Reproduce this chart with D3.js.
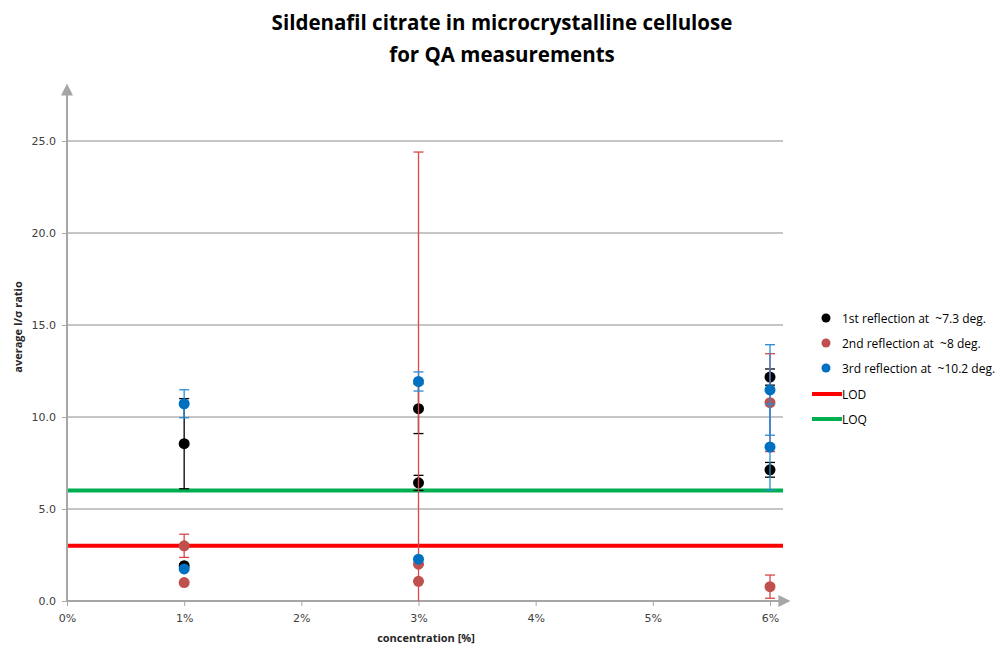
<!DOCTYPE html>
<html>
<head>
<meta charset="utf-8">
<script src="https://cdn.jsdelivr.net/npm/d3@7"></script>
<style>
  body { margin: 0; background: #fff; }
  text { font-family: "Open Sans", sans-serif; }
  .tick text { font-family: "DejaVu Sans", sans-serif; font-size: 11px; fill: #404040; }
</style>
</head>
<body>
<div id="chart"></div>
<script>
var width = 1001;
var height = 646;

// series data
var seriesNames = ["1st reflection at  ~7.3 deg.", "2nd reflection at  ~8 deg.", "3rd reflection at  ~10.2 deg."];
var seriesColours = ["#000000", "#c0504d", "#0070c0"];
var errColours = ["#000000", "#d84848", "#2a8ad4"];

var s1Conc = [1, 1, 3, 3, 6, 6];
var s1Ratio = [8.55, 1.92, 10.45, 6.42, 12.17, 7.13];
var s1Err = [2.45, 0, 1.35, 0.41, 0.44, 0.40];

var s2Conc = [1, 1, 3, 3, 6, 6];
var s2Ratio = [3.0, 1.0, 2.0, 1.07, 10.78, 0.78];
var s2Err = [0.63, 0, 22.4, 0, 2.66, 0.63];

var s3Conc = [1, 1, 3, 3, 6, 6];
var s3Ratio = [10.72, 1.74, 11.93, 2.27, 11.47, 8.37];
var s3Err = [0.76, 0, 0.52, 0, 2.46, 2.34];

var limitNames = ["LOD", "LOQ"];
var limitValues = [3.0, 6.0];
var limitColours = ["#ff0000", "#00b050"];

var xTicks = [0, 1, 2, 3, 4, 5, 6];
var yTicks = [0, 5, 10, 15, 20, 25];

var svg = d3.select("#chart")
    .append("svg")
        .attr("width", width)
        .attr("height", height);

var xscale = d3.scaleLinear()
    .domain([0, 6])
    .range([67, 770]);
var yscale = d3.scaleLinear()
    .domain([0, 25])
    .range([601, 141]);

var plotRight = 783;

// grid lines
svg.append("g").selectAll("line")
    .data(yTicks.filter(function(d){ return d > 0; }))
    .enter().append("line")
    .attr("x1", xscale(0))
    .attr("x2", plotRight)
    .attr("y1", function(d){ return yscale(d); })
    .attr("y2", function(d){ return yscale(d); })
    .style("stroke", "#8c8c8c")
    .style("stroke-width", 1);

// axes
var y_axis = d3.axisLeft(yscale)
    .tickValues(yTicks)
    .tickFormat(d3.format(".1f"))
    .tickSize(5)
    .tickPadding(6);
var yg = svg.append("g")
    .attr("transform", "translate(" + xscale(0) + ",0)")
    .call(y_axis);

var x_axis = d3.axisBottom(xscale)
    .tickValues(xTicks)
    .tickFormat(function(d){ return d + "%"; })
    .tickSize(5)
    .tickPadding(8);
var xg = svg.append("g")
    .attr("transform", "translate(0," + yscale(0) + ")")
    .call(x_axis);

[yg, xg].forEach(function(g){
    g.select(".domain").remove();
    g.selectAll(".tick line").style("stroke", "#a6a6a6");
});

var defs = svg.append("defs");
defs.append("marker")
    .attr("id", "arrow")
    .attr("viewBox", "0 0 10 10")
    .attr("refX", 8).attr("refY", 5)
    .attr("markerWidth", 6).attr("markerHeight", 6)
    .attr("orient", "auto")
    .append("path")
    .attr("d", "M0,0 L10,5 L0,10 Z")
    .style("fill", "#a6a6a6");

svg.append("line")
    .attr("x1", xscale(0)).attr("x2", xscale(0))
    .attr("y1", yscale(0) + 0.5).attr("y2", 86)
    .style("stroke", "#a6a6a6").style("stroke-width", 2)
    .attr("marker-end", "url(#arrow)");
svg.append("line")
    .attr("x1", xscale(0) - 1).attr("x2", 788)
    .attr("y1", yscale(0)).attr("y2", yscale(0))
    .style("stroke", "#a6a6a6").style("stroke-width", 2)
    .attr("marker-end", "url(#arrow)");

// LOD / LOQ lines
svg.append("g").selectAll("line")
    .data(limitValues)
    .enter().append("line")
    .attr("x1", xscale(0) + 1)
    .attr("x2", plotRight)
    .attr("y1", function(d){ return yscale(d); })
    .attr("y2", function(d){ return yscale(d); })
    .style("stroke", function(d, i){ return limitColours[i]; })
    .style("stroke-width", 4);

// points with error bars
var allSeries = [
    {conc: s1Conc, ratio: s1Ratio, err: s1Err},
    {conc: s2Conc, ratio: s2Ratio, err: s2Err},
    {conc: s3Conc, ratio: s3Ratio, err: s3Err}
];

allSeries.forEach(function(s, si){
    var rows = s.conc.map(function(c, i){
        return {c: c, v: s.ratio[i], e: s.err[i]};
    });
    var g = svg.append("g");
    var withErr = rows.filter(function(d){ return d.e > 0; });
    g.selectAll(".ebar")
        .data(withErr)
        .enter().append("line")
        .attr("x1", function(d){ return xscale(d.c); })
        .attr("x2", function(d){ return xscale(d.c); })
        .attr("y1", function(d){ return yscale(Math.max(0, d.v - d.e)); })
        .attr("y2", function(d){ return yscale(d.v + d.e); })
        .style("stroke", errColours[si])
        .style("stroke-width", 1.3);
    // caps (skip caps clipped by the axis)
    var caps = [];
    withErr.forEach(function(d){
        caps.push({c: d.c, v: d.v + d.e});
        if (d.v - d.e >= 0) caps.push({c: d.c, v: d.v - d.e});
    });
    g.selectAll(".cap")
        .data(caps)
        .enter().append("line")
        .attr("x1", function(d){ return xscale(d.c) - 5; })
        .attr("x2", function(d){ return xscale(d.c) + 5; })
        .attr("y1", function(d){ return yscale(d.v); })
        .attr("y2", function(d){ return yscale(d.v); })
        .style("stroke", errColours[si])
        .style("stroke-width", 1.3);
    g.selectAll(".dot")
        .data(rows)
        .enter().append("circle")
        .attr("cx", function(d){ return xscale(d.c); })
        .attr("cy", function(d){ return yscale(d.v); })
        .attr("r", 5.5)
        .style("fill", seriesColours[si]);
});

// title
svg.append("text")
    .attr("x", 502).attr("y", 30)
    .attr("text-anchor", "middle")
    .style("font-size", "20.5px").style("font-weight", "bold").style("fill", "#000")
    .text("Sildenafil citrate in microcrystalline cellulose");
svg.append("text")
    .attr("x", 502).attr("y", 62)
    .attr("text-anchor", "middle")
    .style("font-size", "20.5px").style("font-weight", "bold").style("fill", "#000")
    .text("for QA measurements");

// axis titles
svg.append("text")
    .attr("transform", "translate(22," + 327 + ") rotate(-90)")
    .attr("text-anchor", "middle")
    .style("font-size", "11px").style("font-weight", "bold").style("fill", "#262626")
    .text("average I/σ ratio");
svg.append("text")
    .attr("x", 426).attr("y", 642)
    .attr("text-anchor", "middle")
    .style("font-size", "11px").style("font-weight", "bold").style("fill", "#262626")
    .text("concentration [%]");

// legend
var offset = 25;
var legend1 = svg.selectAll(".legend1")
    .data(seriesNames)
    .enter().append("g")
    .attr("class", "legend1")
    .attr("transform", function(d, i){ return "translate(826," + (318 + i * offset) + ")"; });
legend1.append("circle")
    .attr("r", 4.5)
    .style("fill", function(d, i){ return seriesColours[i]; });
legend1.append("text")
    .attr("x", 16).attr("y", 4.5)
    .style("font-size", "12px").style("fill", "#000")
    .style("white-space", "pre")
    .text(function(d){ return d; });

var legend2 = svg.selectAll(".legend2")
    .data(limitNames)
    .enter().append("g")
    .attr("class", "legend2")
    .attr("transform", function(d, i){ return "translate(812," + (394 + i * offset) + ")"; });
legend2.append("line")
    .attr("x1", 0).attr("x2", 30)
    .style("stroke", function(d, i){ return limitColours[i]; })
    .style("stroke-width", 4);
legend2.append("text")
    .attr("x", 30).attr("y", 4.5)
    .style("font-size", "12px").style("fill", "#000")
    .text(function(d){ return d; });
</script>
</body>
</html>
